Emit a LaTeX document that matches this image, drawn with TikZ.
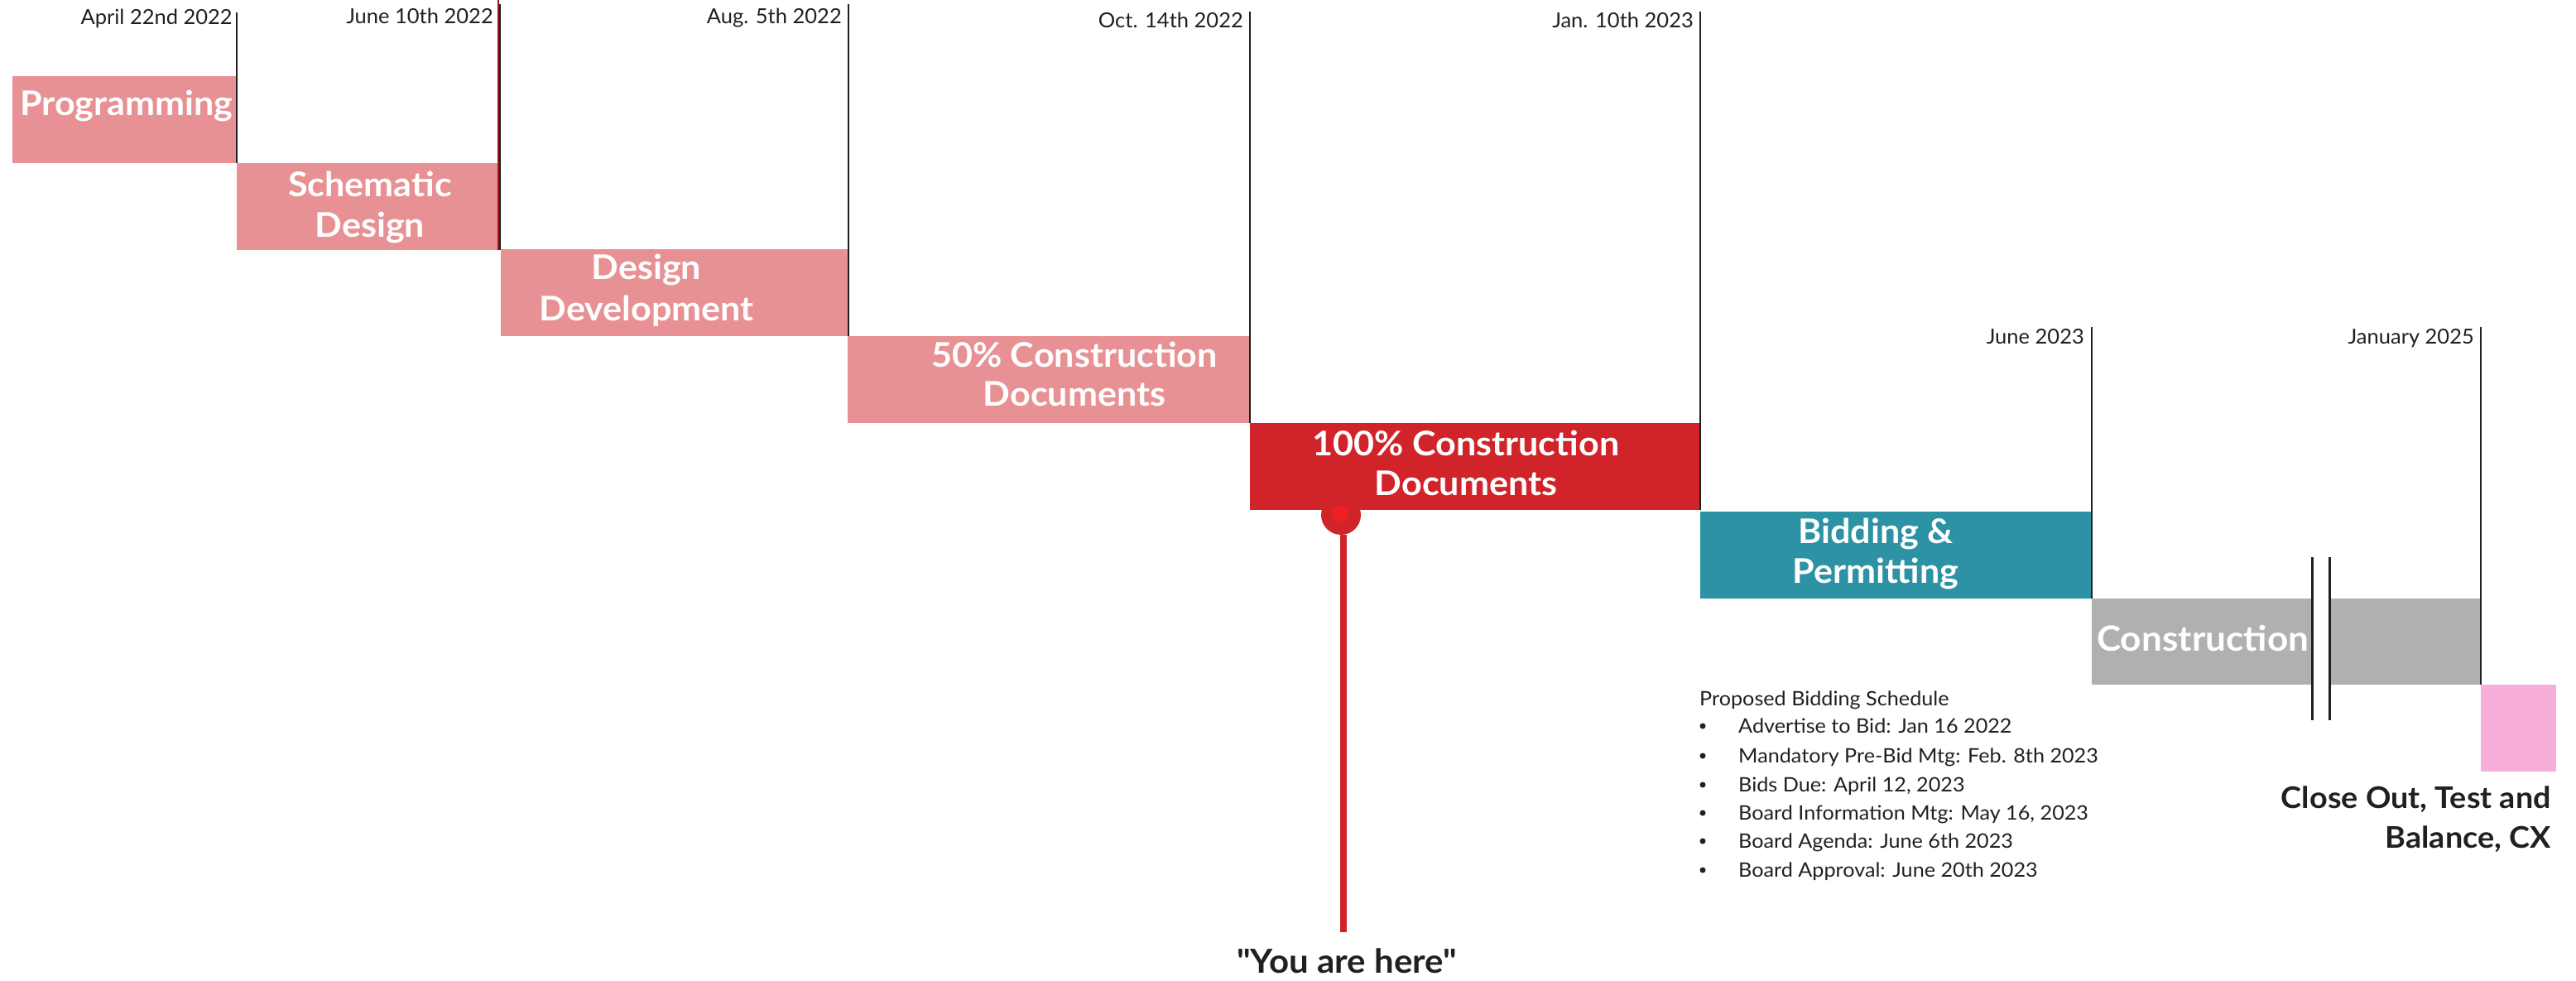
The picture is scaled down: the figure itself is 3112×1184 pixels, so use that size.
\documentclass[tikz,border=0pt]{standalone}
\usepackage{fontspec}
\setmainfont{Lato}[Ligatures=TeXOff, FakeStretch=1.05]
\newfontfamily\datefont{Lato}[Ligatures=TeXOff, FakeStretch=1.02]
\definecolor{lightred}{RGB}{231,145,148}
\definecolor{darkred}{RGB}{209,35,42}
\definecolor{brightred}{RGB}{238,32,36}
\definecolor{tealc}{RGB}{46,146,165}
\definecolor{grayc}{RGB}{176,176,175}
\definecolor{pinkc}{RGB}{247,175,218}
\definecolor{ink}{RGB}{35,31,32}
\definecolor{maroon}{RGB}{150,25,30}
\tikzset{
  phasebox/.style={rectangle, inner sep=0pt, outer sep=0pt, draw=none, anchor=north west},
  boxtext/.style={text=white, font=\fontsize{41}{49}\selectfont\bfseries, inner sep=0pt, anchor=base},
  datetext/.style={text=ink, font=\datefont\fontsize{25}{30}\selectfont, inner sep=0pt, anchor=base east},
  dateline/.style={draw=ink, line width=2.5pt},
  schedtext/.style={text=ink, font=\fontsize{24}{30}\selectfont, inner sep=0pt, anchor=base west},
  bigtext/.style={text=ink, font=\fontsize{40}{48}\selectfont\bfseries, inner sep=0pt},
}
\begin{document}
\begin{tikzpicture}[x=1pt,y=-1pt]
\useasboundingbox (0,0) rectangle (3112,1184);
% phase boxes
\node[phasebox, fill=lightred, minimum width=271pt, minimum height=105pt] (prog) at (15,92) {};
\node[phasebox, fill=lightred, minimum width=317pt, minimum height=105pt] (schem) at (286,197) {};
\node[phasebox, fill=lightred, minimum width=420pt, minimum height=105pt] (desdev) at (605,301) {};
\node[phasebox, fill=lightred, minimum width=486pt, minimum height=105pt] (cdhalf) at (1024,406) {};
\node[phasebox, fill=darkred, minimum width=544pt, minimum height=105pt] (cdfull) at (1510,511) {};
\node[phasebox, fill=tealc, minimum width=473pt, minimum height=105pt] (bid) at (2054,618) {};
\node[phasebox, fill=grayc, minimum width=266pt, minimum height=104pt] (consta) at (2527,723) {};
\node[phasebox, fill=grayc, minimum width=183pt, minimum height=104pt] (constb) at (2814,723) {};
\node[phasebox, fill=pinkc, minimum width=91pt, minimum height=105pt] (closebox) at (2997,827) {};
% box texts
\node[boxtext] (progt) at (153,139) {Programming};
\node[boxtext] (schemta) at (447,237) {Schematic};
\node[boxtext] (schemtb) at (447,286) {Design};
\node[boxtext] (desdevta) at (781,337) {Design};
\node[boxtext] (desdevtb) at (781,387) {Development};
\node[boxtext] (cdhalfta) at (1298,443) {50\% Construction};
\node[boxtext] (cdhalftb) at (1298,490) {Documents};
\node[boxtext] (cdfullta) at (1771,550) {100\% Construction};
\node[boxtext] (cdfulltb) at (1771,598) {Documents};
\node[boxtext] (bidta) at (2266,656) {Bidding \&};
\node[boxtext] (bidtb) at (2266,704) {Permitting};
\node[boxtext, font=\fontsize{42}{48}\selectfont\bfseries, anchor=base west] (constt) at (2533,786) {Construction};
% date lines
\coordinate (ta) at (286,15);
\coordinate (tb) at (604,5);
\coordinate (tbr) at (602,0);
\coordinate (tc) at (1025,5);
\coordinate (td) at (1510,14);
\coordinate (te) at (2054,14);
\coordinate (tf) at (2527,395);
\coordinate (tg) at (2997,395);
\draw[dateline] (ta) -- (prog.south east);
\draw[draw=maroon, line width=2.5pt] (tbr) -- (tbr |- schem.south);
\draw[dateline, line width=1.5pt] (tb) -- (tb |- schem.south);
\draw[dateline] (tc) -- (desdev.south east);
\draw[dateline] (td) -- (cdhalf.south east);
\draw[dateline] (te) -- (cdfull.south east);
\draw[dateline] (tf) -- (bid.south east);
\draw[dateline] (tg) -- (constb.south east);
% break marks
\coordinate (brka) at (2793,673);
\coordinate (brkb) at (2814,673);
\draw[dateline, line width=3pt] (brka) -- ++(0,197);
\draw[dateline, line width=3pt] (brkb) -- ++(0,197);
% date labels
\node[datetext] (da) at (281,29) {April 22nd 2022};
\node[datetext] (db) at (596,28) {June 10th 2022};
\node[datetext] (dc) at (1017,28) {Aug. 5th 2022};
\node[datetext] (dd) at (1502,33) {Oct. 14th 2022};
\node[datetext] (de) at (2046,33) {Jan. 10th 2023};
\node[datetext] (df) at (2518,415) {June 2023};
\node[datetext] (dg) at (2989,415) {January 2025};
% close out text
\node[bigtext, font=\fontsize{36}{48}\selectfont\bfseries, anchor=base east] (closea) at (3082,976) {Close Out, Test and};
\node[bigtext, font=\fontsize{36}{48}\selectfont\bfseries, anchor=base east] (closeb) at (3082,1024) {Balance, CX};
% schedule
\node[schedtext] (sched) at (2053,852) {Proposed Bidding Schedule};
\foreach \y/\t [count=\i] in {885/{Advertise to Bid: Jan 16 2022},921/{Mandatory Pre-Bid Mtg: Feb. 8th 2023},956/{Bids Due: April 12, 2023},990/{Board Information Mtg: May 16, 2023},1024/{Board Agenda: June 6th 2023},1059/{Board Approval: June 20th 2023}}{
  \node[circle, fill=ink, inner sep=0pt, minimum size=7pt] (bul\i) at (2057,\y-8) {};
  \node[schedtext] (item\i) at (2100,\y) {\t};
}
% you are here marker
\node[circle, fill=darkred, inner sep=0pt, minimum size=48pt] (marker) at (1620,622) {};
\node[circle, fill=brightred, inner sep=0pt, minimum size=20pt] (markerin) at (1619,620) {};
\coordinate (stemend) at (1623,1126);
\draw[draw=darkred, line width=8pt] (stemend |- marker.south) -- (stemend);
\node[bigtext, anchor=base] (here) at (1627,1175) {"You are here"};
\end{tikzpicture}
\end{document}
